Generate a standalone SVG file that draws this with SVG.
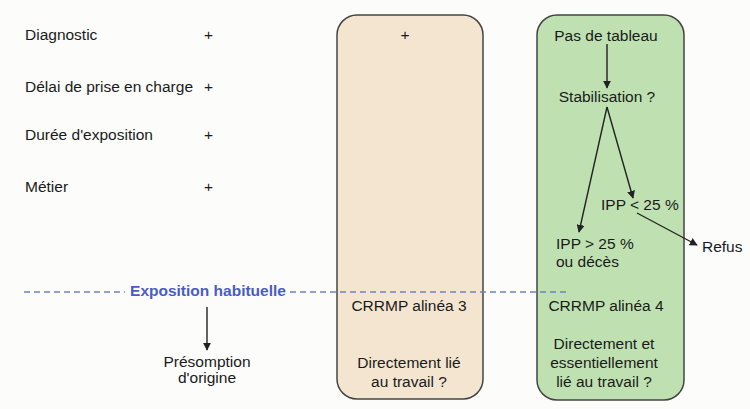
<svg xmlns="http://www.w3.org/2000/svg" width="750" height="409" viewBox="0 0 750 409">
<defs>
<style>
text{font-family:"Liberation Sans",Arial,sans-serif;font-size:15.5px;fill:#1a1a1a}
.c{text-anchor:middle}
.box{stroke:#444;stroke-width:1.5}
.conn{stroke:#222;stroke-width:1.4;fill:none}
.exp{fill:#4a5cc4;font-weight:bold}
.dash{stroke:#7083c0;stroke-width:1.3;stroke-dasharray:6,4;fill:none}
</style>
<marker id="ah" viewBox="0 0 10 10" refX="9" refY="5" markerWidth="8" markerHeight="8" markerUnits="userSpaceOnUse" orient="auto">
<path d="M0,0 L10,5 L0,10 z" fill="#222"/>
</marker>
</defs>
<rect width="750" height="409" fill="#fcfcfb"/>
<g id="criteria">
<text x="25" y="40">Diagnostic</text>
<text x="204" y="40">+</text>
<text x="25" y="92">Délai de prise en charge</text>
<text x="204" y="92">+</text>
<text x="25" y="140">Durée d'exposition</text>
<text x="204" y="140">+</text>
<text x="25" y="192">Métier</text>
<text x="204" y="192">+</text>
</g>
<g id="box-alinea3">
<rect class="box" x="337" y="15" width="146" height="384" rx="20" fill="#f4e5d1"/>
<text class="c" x="405" y="40">+</text>
<text class="c" x="409" y="311">CRRMP alinéa 3</text>
<text class="c" x="409" y="368">Directement lié</text>
<text class="c" x="409" y="387">au travail ?</text>
</g>
<g id="box-alinea4">
<rect class="box" x="537" y="15" width="147" height="385" rx="20" fill="#bfe1b1"/>
<text class="c" x="606" y="41">Pas de tableau</text>
<text class="c" x="607" y="102">Stabilisation ?</text>
<text x="601" y="210">IPP &lt; 25 %</text>
<text x="556" y="249">IPP &gt; 25 %</text>
<text x="556" y="267">ou décès</text>
<text class="c" x="606" y="311">CRRMP alinéa 4</text>
<text class="c" x="604" y="349">Directement et</text>
<text class="c" x="604" y="368">essentiellement</text>
<text class="c" x="604" y="387">lié au travail ?</text>
</g>
<g id="refus">
<text x="702" y="252">Refus</text>
</g>
<g id="exposition">
<text class="exp c" x="208" y="296">Exposition habituelle</text>
</g>
<g id="presomption">
<text class="c" x="207" y="367">Présomption</text>
<text class="c" x="207" y="383">d'origine</text>
</g>
<g id="connectors">
<path class="dash" d="M24,292 H125"/>
<path class="dash" d="M290,292 H566"/>
<path class="conn" marker-end="url(#ah)" d="M207,307 V350"/>
<path class="conn" marker-end="url(#ah)" d="M607,44 V88"/>
<path class="conn" marker-end="url(#ah)" d="M607,107 L579,232"/>
<path class="conn" marker-end="url(#ah)" d="M607,107 L633,198"/>
<path class="conn" marker-end="url(#ah)" d="M637,213 L697,245"/>
</g>
</svg>
